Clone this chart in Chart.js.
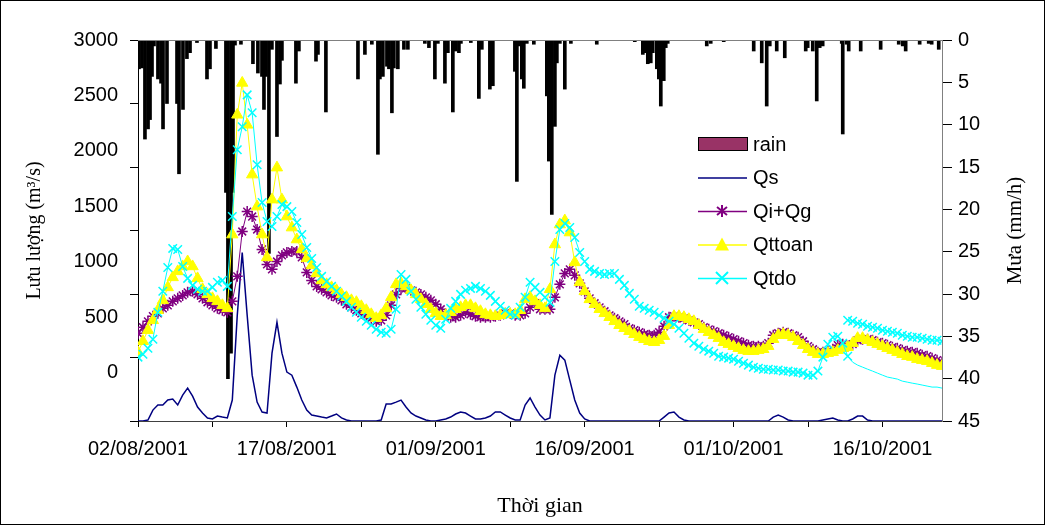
<!DOCTYPE html>
<html lang="vi">
<head>
<meta charset="UTF-8">
<title>Lưu lượng và mưa 02/08/2001 - 23/10/2001</title>
<script src="https://cdn.jsdelivr.net/npm/chart.js"></script>
<style>
  html, body { margin: 0; padding: 0; background: #fff; }
  #wrap { width: 1045px; height: 525px; }
</style>
</head>
<body>
<div id="wrap"><canvas id="chartLuuLuong" width="1045" height="525"></canvas></div>
<script>
// thoi gian tinh bang ngay ke tu 02/08/2001, moi diem cach nhau nua ngay
const timeDays = Array.from({ length: 163 }, (_, i) => i / 2);

// truc thoi gian: vach chia 7.5 ngay, nhan 15 ngay
const xTickDays = [0, 7.5, 15, 22.5, 30, 37.5, 45, 52.5, 60, 67.5, 75];
const flowTicks = [0, 500, 1000, 1500, 2000, 2500, 3000];
const rainTicks = [0, 5, 10, 15, 20, 25, 30, 35, 40, 45];

// mua (mm/h)
const rainDay = [
  0.10, 0.40, 0.70, 1.01, 1.21, 1.41, 1.61, 2.01, 2.32, 2.52, 2.92, 3.93, 4.13, 4.53, 4.93, 5.24,
  5.94, 6.95, 7.25, 7.85, 8.86, 9.06, 9.37, 9.57, 9.77, 10.37, 11.58, 12.08, 12.49, 12.69, 12.89,
  13.19, 13.49, 14.00, 14.30, 14.50, 15.91, 16.21, 17.93, 18.13, 18.93, 22.16, 22.86, 23.56,
  24.17, 24.37, 24.67, 25.08, 25.28, 25.58, 25.78, 26.18, 26.79, 27.19, 28.90, 29.31, 29.91,
  30.21, 30.92, 31.22, 31.72, 32.02, 32.33, 32.53, 33.53, 34.34, 34.64, 35.45, 35.75, 37.97,
  38.17, 38.37, 38.67, 38.87, 39.17, 39.88, 41.19, 41.39, 41.69, 42.00, 42.20, 42.50, 43.00,
  43.61, 46.22, 50.05, 50.86, 51.06, 51.36, 51.66, 51.86, 52.27, 52.47, 52.67, 52.97, 53.17,
  53.37, 57.30, 57.70, 59.01, 62.03, 62.84, 63.34, 63.65, 64.35, 65.16, 67.27, 67.47, 67.98,
  68.38, 68.68, 68.98, 70.90, 71.00, 71.40, 71.60, 72.81, 74.82, 76.64, 77.04, 77.34, 78.75,
  79.66, 79.96, 80.67
];
const rainMm = [
  3.4, 3.3, 11.7, 10.5, 9.4, 4.3, 0.7, 4.6, 5.1, 10.5, 7.5, 7.5, 15.8, 8.2, 2.2, 1.5,
  0.3, 4.6, 3.4, 1.0, 18, 40, 37, 18, 0.6, 0.5, 2.8, 3.9, 4.3, 8.2, 4.3,
  25.2, 1.1, 11.4, 5.2, 2.4, 5.1, 1.3, 2.5, 1.7, 8.5, 4.6, 1.7, 0.5,
  13.5, 4.6, 4.3, 3.1, 3.4, 8.6, 3.3, 3.4, 1.1, 1.1, 0.4, 0.9, 4.6,
  0.4, 5.1, 1.5, 8.5, 1.3, 1.5, 0.4, 0.3, 6.9, 1.1, 5.8, 5.4, 3.7,
  16.7, 0.7, 4.6, 5.7, 0.4, 0.5, 6.6, 14.3, 20.6, 10.2, 2.7, 0.4, 5.8,
  0.4, 0.5, 0.2, 1.7, 1.5, 2.8, 2.7, 1.5, 3.4, 4.6, 7.8, 4.8, 0.9,
  0.4, 0.7, 0.4, 0.2, 1.3, 2.7, 7.8, 0.7, 1.3, 2.1, 1.3, 0.9, 1.3,
  7.2, 0.9, 0.7, 0.4, 11.1, 0.5, 1.3, 1.3, 1.1, 0.5, 0.7, 1.3, 0.5,
  0.4, 0.5, 1.1
];

// luu luong (m3/s)
const qsValues = [
  0, 0, 8, 86, 126, 126, 165, 173, 126, 204,
  259, 196, 110, 63, 24, 16, 39, 31, 24, 165,
  832, 1327, 832, 361, 149, 71, 63, 534, 777, 534,
  385, 361, 267, 165, 86, 47, 39, 31, 24, 39,
  55, 24, 8, 0, 0, 0, 0, 0, 0, 8,
  134, 134, 149, 165, 110, 63, 39, 24, 8, 0,
  0, 8, 16, 31, 55, 71, 63, 39, 16, 16,
  24, 39, 71, 71, 47, 24, 8, 8, 126, 181,
  110, 47, 8, 24, 361, 518, 479, 322, 165, 63,
  16, 0, 0, 0, 0, 0, 0, 0, 0, 0,
  0, 0, 0, 0, 0, 0, 31, 63, 71, 31,
  8, 0, 0, 0, 0, 0, 0, 0, 0, 0,
  0, 0, 0, 0, 0, 0, 0, 0, 31, 47,
  31, 8, 0, 0, 0, 0, 0, 0, 8, 16,
  24, 8, 0, 0, 16, 39, 39, 8, 0, 0,
  0, 0, 0, 0, 0, 0, 0, 0, 0, 0,
  0, 0, 0
];
const qiqgValues = [
  691, 738, 785, 825, 848, 887, 911, 942, 966, 989,
  1013, 1021, 997, 966, 935, 911, 887, 872, 856, 942,
  1139, 1492, 1649, 1610, 1508, 1351, 1233, 1194, 1256, 1304,
  1327, 1335, 1335, 1288, 1170, 1107, 1060, 1037, 1013, 989,
  974, 950, 919, 895, 872, 848, 832, 809, 785, 793,
  832, 911, 997, 1044, 1044, 1029, 1013, 997, 974, 950,
  919, 880, 840, 817, 817, 832, 856, 840, 825, 817,
  817, 817, 825, 832, 848, 848, 832, 832, 848, 895,
  927, 880, 880, 880, 974, 1076, 1162, 1194, 1147, 1084,
  1021, 966, 927, 895, 864, 832, 809, 785, 762, 730,
  715, 699, 683, 675, 675, 699, 746, 817, 825, 817,
  809, 793, 777, 762, 738, 722, 707, 691, 675, 660,
  644, 628, 613, 597, 589, 589, 589, 613, 675, 691,
  699, 691, 675, 660, 628, 589, 565, 542, 542, 550,
  565, 597, 605, 589, 605, 636, 644, 644, 636, 620,
  613, 597, 581, 573, 558, 550, 542, 534, 518, 510,
  495, 479, 463
];
const qttoanValues = [
  542, 628, 715, 793, 872, 950, 1052, 1131, 1178, 1217,
  1256, 1217, 1123, 1037, 997, 966, 942, 911, 887, 1468,
  2411, 2662, 2332, 1940, 1688, 1468, 1288, 1743, 1995, 1743,
  1610, 1523, 1429, 1351, 1280, 1225, 1162, 1107, 1076, 1052,
  1029, 997, 974, 950, 935, 903, 872, 840, 809, 832,
  887, 974, 1076, 1084, 1060, 1029, 997, 958, 919, 880,
  848, 825, 832, 856, 880, 895, 911, 911, 887, 864,
  840, 832, 825, 832, 840, 840, 840, 872, 958, 974,
  942, 911, 887, 1037, 1390, 1547, 1578, 1484, 1249, 1092,
  1021, 958, 919, 880, 848, 817, 785, 754, 730, 707,
  683, 660, 644, 628, 620, 636, 668, 754, 825, 825,
  817, 801, 785, 754, 722, 699, 675, 652, 620, 605,
  589, 573, 558, 550, 550, 558, 565, 589, 644, 675,
  683, 675, 660, 628, 597, 565, 542, 526, 526, 534,
  542, 558, 573, 581, 613, 652, 652, 636, 620, 605,
  589, 573, 558, 542, 526, 510, 503, 487, 479, 471,
  455, 440, 432
];
const qtdoValues = [
  503, 526, 573, 644, 856, 1021, 1209, 1359, 1351, 1217,
  1123, 1068, 1037, 1021, 1021, 1052, 1092, 1107, 1060, 1610,
  2136, 2317, 2568, 2427, 2018, 1720, 1571, 1531, 1610, 1704,
  1688, 1649, 1563, 1468, 1366, 1280, 1209, 1139, 1099, 1060,
  1021, 982, 942, 895, 856, 817, 785, 754, 722, 699,
  691, 722, 880, 1154, 1115, 1021, 958, 895, 840, 793,
  754, 730, 801, 887, 942, 997, 1029, 1044, 1060, 1044,
  1021, 989, 942, 903, 872, 840, 832, 895, 974, 1092,
  1052, 1013, 974, 934, 1256, 1508, 1555, 1523, 1445, 1327,
  1256, 1194, 1178, 1162, 1154, 1162, 1162, 1115, 1068, 1005,
  958, 903, 887, 872, 856, 832, 809, 785, 762, 730,
  691, 652, 613, 589, 565, 550, 534, 510, 503, 495,
  487, 471, 455, 440, 424, 416, 408, 408, 401, 401,
  393, 393, 385, 385, 377, 361, 361, 393, 503, 605,
  660, 668, 613, 510, 463, 440, 424, 408, 393, 377,
  361, 346, 338, 330, 314, 306, 298, 291, 283, 275,
  267, 267, 259
];
// doan Qtdo phia tren tu 19/10 (bat dau tai nua ngay thu 143)
const qtdoTailStart = 143;
const qtdoTailValues = [
  793, 785, 770, 762, 746, 738, 730, 715, 707, 699,
  691, 675, 668, 660, 660, 652, 644, 636, 636, 628
];
const qtdoMarkerEnd = 72;

function pad2(n) { return String(n).padStart(2, '0'); }
function fmtDate(d) {
  const t = new Date(2001, 7, 2 + d);
  return pad2(t.getDate()) + '/' + pad2(t.getMonth() + 1) + '/' + t.getFullYear();
}
function toXY(vals, offset) {
  return vals.map((v, i) => ({ x: timeDays[i + offset], y: v }));
}

const SANS = 'Arial, "Liberation Sans", sans-serif';
const SERIF = '"Times New Roman", "Liberation Serif", serif';

// chu giai va tieu de truc phai, khung ngoai
const extras = {
  id: 'extras',
  afterDraw(chart) {
    const ctx = chart.ctx;
    const area = chart.chartArea;
    ctx.save();
    // duong vien tren vung ve
    ctx.strokeStyle = '#808080';
    ctx.lineWidth = 1;
    ctx.beginPath();
    ctx.moveTo(area.left, area.top + 0.5);
    ctx.lineTo(area.right, area.top + 0.5);
    ctx.stroke();

    // chu giai
    const x0 = 698, x1 = 747, xm = 722, tx = 753;
    let y = 144;
    ctx.font = '20px ' + SANS;
    ctx.textBaseline = 'middle';
    ctx.textAlign = 'left';
    chart.data.datasets.forEach(ds => {
      if (!ds.legend) return;
      if (ds.legend === 'box') {
        ctx.fillStyle = ds.legendColor;
        ctx.fillRect(x0, y - 7, x1 - x0, 13);
        ctx.strokeStyle = '#000';
        ctx.lineWidth = 1;
        ctx.strokeRect(x0 + 0.5, y - 6.5, x1 - x0, 13);
      } else {
        ctx.strokeStyle = ds.borderColor;
        ctx.lineWidth = 1.5;
        ctx.beginPath();
        ctx.moveTo(x0, y + 0.5);
        ctx.lineTo(x1, y + 0.5);
        ctx.stroke();
        ctx.lineWidth = 2;
        if (ds.legend === 'star') {
          ctx.beginPath();
          ctx.moveTo(xm, y - 6); ctx.lineTo(xm, y + 6);
          ctx.moveTo(xm - 5, y - 4); ctx.lineTo(xm + 5, y + 4);
          ctx.moveTo(xm - 5, y + 4); ctx.lineTo(xm + 5, y - 4);
          ctx.stroke();
        } else if (ds.legend === 'triangle') {
          ctx.fillStyle = ds.borderColor;
          ctx.beginPath();
          ctx.moveTo(xm, y - 7); ctx.lineTo(xm + 7, y + 6); ctx.lineTo(xm - 7, y + 6);
          ctx.closePath();
          ctx.fill();
        } else if (ds.legend === 'cross') {
          ctx.beginPath();
          ctx.moveTo(xm - 6, y - 6); ctx.lineTo(xm + 6, y + 6);
          ctx.moveTo(xm - 6, y + 6); ctx.lineTo(xm + 6, y - 6);
          ctx.stroke();
        }
      }
      ctx.fillStyle = '#000';
      ctx.fillText(ds.label, tx, y + 1);
      y += 33.5;
    });

    // tieu de truc phai, doc tu duoi len
    ctx.font = '21px ' + SERIF;
    ctx.textAlign = 'center';
    ctx.translate(1015, (area.top + area.bottom) / 2);
    ctx.rotate(-Math.PI / 2);
    ctx.fillText('Mưa (mm/h)', 0, 0);
    ctx.restore();

    // khung ngoai
    ctx.save();
    ctx.strokeStyle = '#000';
    ctx.lineWidth = 1;
    ctx.strokeRect(0.5, 0.5, chart.width - 1, chart.height - 1);
    ctx.restore();
  }
};

new Chart(document.getElementById('chartLuuLuong'), {
  type: 'line',
  data: {
    datasets: [
      {
        type: 'bar', label: 'rain', legend: 'box', legendColor: '#993366',
        data: rainDay.map((d, i) => ({ x: d, y: rainMm[i] })),
        yAxisID: 'y2', backgroundColor: '#000', borderWidth: 0,
        barThickness: 3, order: 6
      },
      {
        label: 'Qs', legend: 'line', data: toXY(qsValues, 0), yAxisID: 'y',
        borderColor: '#000080', borderWidth: 1.5, pointRadius: 0, order: 5
      },
      {
        label: 'Qi+Qg', legend: 'star', data: toXY(qiqgValues, 0), yAxisID: 'y',
        borderColor: '#800080', backgroundColor: '#800080', borderWidth: 1,
        pointStyle: 'star', pointRadius: 5.5, pointBorderWidth: 1.5, order: 4
      },
      {
        label: 'Qttoan', legend: 'triangle', data: toXY(qttoanValues, 0), yAxisID: 'y',
        borderColor: '#FFFF00', backgroundColor: '#FFFF00', borderWidth: 1,
        pointStyle: 'triangle', pointRadius: 6.5, pointBorderWidth: 1, order: 3
      },
      {
        label: 'Qtdo', legend: 'cross', data: toXY(qtdoValues, 0), yAxisID: 'y',
        borderColor: '#00FFFF', backgroundColor: '#00FFFF', borderWidth: 1,
        pointStyle: 'crossRot', pointBorderWidth: 1.5,
        pointRadius: c => (c.raw && c.raw.x >= qtdoMarkerEnd ? 0 : 6), order: 2
      },
      {
        label: 'Qtdo', data: toXY(qtdoTailValues, qtdoTailStart), yAxisID: 'y',
        borderColor: '#00FFFF', backgroundColor: '#00FFFF', borderWidth: 1,
        pointStyle: 'crossRot', pointRadius: 6, pointBorderWidth: 1.5, order: 1
      }
    ]
  },
  options: {
    responsive: false,
    animation: false,
    devicePixelRatio: 1,
    layout: { padding: { top: 40, left: 0, right: 0, bottom: 0 } },
    plugins: { legend: { display: false }, tooltip: { enabled: false } },
    scales: {
      x: {
        type: 'linear', min: 0, max: 81, offset: false,
        afterBuildTicks: s => { s.ticks = xTickDays.map(v => ({ value: v })); },
        afterFit: s => { s.height = 104; s.paddingLeft = 0; s.paddingRight = 0; },
        grid: { offset: false, drawOnChartArea: false, tickLength: 6, color: '#000' },
        border: { color: '#404040', width: 1 },
        ticks: {
          autoSkip: false, maxRotation: 0, padding: 10, color: '#000',
          font: { family: SANS, size: 20 },
          callback: v => (v % 15 === 0 ? fmtDate(v) : '')
        },
        title: {
          display: true, text: 'Thời gian', color: '#000',
          font: { family: SERIF, size: 22 }, padding: { bottom: 6 }
        }
      },
      y: {
        position: 'left', weight: 0, min: 0, max: 3000,
        afterBuildTicks: s => { s.ticks = flowTicks.map(v => ({ value: v })); },
        afterFit: s => { s.width = 10; s.paddingTop = 0; s.paddingBottom = 0; },
        ticks: { display: false },
        grid: { drawOnChartArea: false, tickLength: 8, color: '#000' },
        border: { color: '#000', width: 1 }
      },
      yl: {
        position: 'left', weight: 1, min: -435, max: 3000,
        afterBuildTicks: s => { s.ticks = flowTicks.map(v => ({ value: v })); },
        afterFit: s => { s.width = 128; s.paddingTop = 0; s.paddingBottom = 0; },
        grid: { display: false, drawTicks: false },
        border: { display: false },
        ticks: {
          padding: 10, color: '#000', font: { family: SANS, size: 20 },
          callback: v => String(v)
        },
        title: {
          display: true, text: 'Lưu lượng (m³/s)', color: '#000',
          font: { family: SERIF, size: 20 }, padding: { top: 23 }
        }
      },
      y2: {
        position: 'right', reverse: true, min: 0, max: 45,
        afterBuildTicks: s => { s.ticks = rainTicks.map(v => ({ value: v })); },
        afterFit: s => { s.width = 103; s.paddingTop = 0; s.paddingBottom = 0; },
        grid: { drawOnChartArea: false, tickLength: 10, color: '#000' },
        border: { color: '#808080', width: 1 },
        ticks: {
          padding: 6, color: '#000', font: { family: SANS, size: 20 },
          callback: v => String(v)
        }
      }
    }
  },
  plugins: [extras]
});
</script>
</body>
</html>
